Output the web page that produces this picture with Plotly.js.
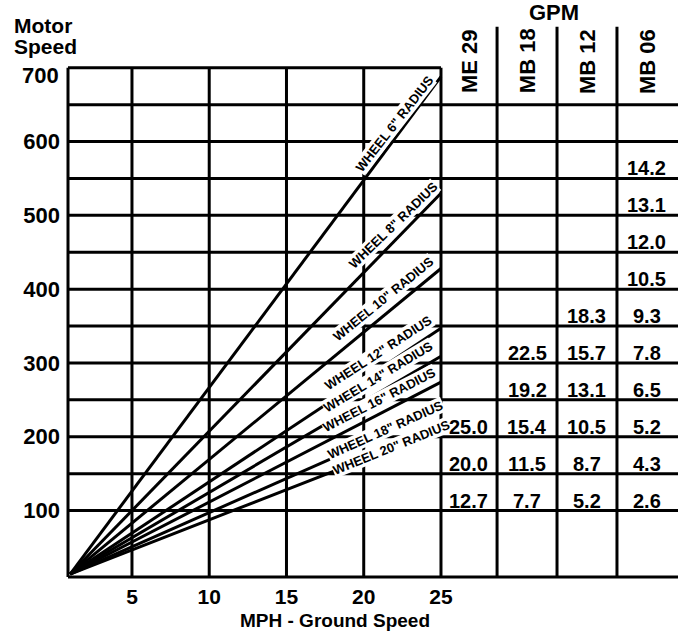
<!DOCTYPE html>
<html>
<head>
<meta charset="utf-8">
<script src="https://cdn.plot.ly/plotly-3.0.1.min.js"></script>
<style>html,body{margin:0;padding:0;background:#fff;}#chart{width:678px;height:634px;}</style>
</head>
<body>
<div id="chart"></div>
<script>
// ---- data ----
const wheelRadius = [6, 8, 10, 12, 14, 16, 18, 20];
const mphPoints = [1, 25];
const rpmWheel6 = [14, 688];
const rpmWheel8 = [14, 530];
const rpmWheel10 = [14, 428];
const rpmWheel12 = [14, 347];
const rpmWheel14 = [14, 309];
const rpmWheel16 = [14, 274];
const rpmWheel18 = [14, 236];
const rpmWheel20 = [14, 210];

const xTickVals = [5, 10, 15, 20, 25];
const yTickVals = [100, 200, 300, 400, 500, 600, 700];

const gpmColumns = ['ME 29', 'MB 18', 'MB 12', 'MB 06'];
const gpmSpeeds = [550, 500, 450, 400, 350, 300, 250, 200, 150, 100];
const gpmME29 = [null, null, null, null, null, null, null, 25.0, 20.0, 12.7];
const gpmMB18 = [null, null, null, null, null, 22.5, 19.2, 15.4, 11.5, 7.7];
const gpmMB12 = [null, null, null, null, 18.3, 15.7, 13.1, 10.5, 8.7, 5.2];
const gpmMB06 = [14.2, 13.1, 12.0, 10.5, 9.3, 7.8, 6.5, 5.2, 4.3, 2.6];

// ---- layout constants ----
const FONT = 'Liberation Sans, Arial, Helvetica, sans-serif';
const X_LEFT = 0.86, X_PLOT_RIGHT = 25, X_FAR = 40.34;
const Y_BOTTOM = 10, Y_TOP = 700, Y_HEADER_TOP = 755.5;
const gridY = [100, 150, 200, 250, 300, 350, 400, 450, 500, 550, 600, 650];
const gridX = [5, 10, 15, 20];
const columnEdges = [28.63, 32.51, 36.39];
const columnCenters = [26.81, 30.57, 34.45, 38.33];
const labelPos = [
  {x: 22.02, y: 624, a: -52},
  {x: 21.90, y: 486, a: -44},
  {x: 21.31, y: 387, a: -39},
  {x: 20.98, y: 314, a: -33},
  {x: 20.98, y: 281, a: -31},
  {x: 21.05, y: 250, a: -27},
  {x: 21.44, y: 210, a: -24},
  {x: 21.77, y: 186, a: -22}
];

const wheelSeries = [rpmWheel6, rpmWheel8, rpmWheel10, rpmWheel12, rpmWheel14, rpmWheel16, rpmWheel18, rpmWheel20];

const traces = wheelSeries.map((ys, i) => ({
  type: 'scatter', mode: 'lines', x: mphPoints, y: ys,
  line: {color: '#000', width: 3}, hoverinfo: 'skip', showlegend: false,
  name: 'Wheel ' + wheelRadius[i] + '" radius'
}));

const lineStyle = {color: '#000', width: 3};
const shapes = [];
gridY.forEach(v => shapes.push({type: 'line', xref: 'x', yref: 'y', x0: X_LEFT, x1: X_FAR, y0: v, y1: v, line: lineStyle, layer: 'below'}));
shapes.push({type: 'line', xref: 'x', yref: 'y', x0: X_LEFT, x1: X_PLOT_RIGHT, y0: Y_TOP, y1: Y_TOP, line: lineStyle, layer: 'below'});
shapes.push({type: 'line', xref: 'x', yref: 'y', x0: X_LEFT, x1: X_FAR, y0: Y_BOTTOM, y1: Y_BOTTOM, line: lineStyle, layer: 'below'});
gridX.concat([X_LEFT, X_PLOT_RIGHT]).forEach(v => shapes.push({type: 'line', xref: 'x', yref: 'y', x0: v, x1: v, y0: Y_BOTTOM, y1: Y_TOP, line: lineStyle, layer: 'below'}));
columnEdges.forEach(v => shapes.push({type: 'line', xref: 'x', yref: 'y', x0: v, x1: v, y0: Y_BOTTOM, y1: Y_HEADER_TOP, line: lineStyle, layer: 'below'}));

const annotations = [];
const boldFont = (size) => ({family: FONT, size: size, color: '#000', weight: 'bold'});

wheelRadius.forEach((r, i) => {
  annotations.push({
    x: labelPos[i].x, y: labelPos[i].y, xref: 'x', yref: 'y',
    text: 'WHEEL ' + r + '" RADIUS', showarrow: false, textangle: labelPos[i].a,
    font: boldFont(13), bgcolor: '#fff', borderpad: 0,
    xanchor: 'center', yanchor: 'middle'
  });
});

[gpmME29, gpmMB18, gpmMB12, gpmMB06].forEach((col, c) => {
  col.forEach((v, r) => {
    if (v === null) return;
    annotations.push({
      x: columnCenters[c], y: gpmSpeeds[r], xref: 'x', yref: 'y',
      text: v.toFixed(1), showarrow: false, font: boldFont(20),
      xanchor: 'center', yanchor: 'bottom', yshift: -2, borderpad: 0
    });
  });
});

gpmColumns.forEach((name, c) => {
  annotations.push({
    x: columnCenters[c], y: 709, xref: 'x', yref: 'y', text: name, showarrow: false,
    textangle: -90, font: boldFont(22), xanchor: 'center', yanchor: 'middle'
  });
});
annotations.push({x: 0.798, y: 1.0207, xref: 'paper', yref: 'paper', text: 'GPM', showarrow: false, font: boldFont(22), xanchor: 'center', yanchor: 'middle'});

annotations.push({x: -0.0847, y: 0.9973, xref: 'paper', yref: 'paper', text: 'Motor', showarrow: false, font: boldFont(21), xanchor: 'left', yanchor: 'middle'});
annotations.push({x: -0.0847, y: 0.960, xref: 'paper', yref: 'paper', text: 'Speed', showarrow: false, font: boldFont(21), xanchor: 'left', yanchor: 'middle'});
annotations.push({x: 0.4414, y: -0.0737, xref: 'paper', yref: 'paper', text: 'MPH - Ground Speed', showarrow: false, font: boldFont(19), xanchor: 'center', yanchor: 'middle', borderpad: 0});
annotations.push({x: -0.0049, y: 0.9065, xref: 'paper', yref: 'paper', text: String(yTickVals[yTickVals.length - 1]), showarrow: false, font: boldFont(22), xanchor: 'right', yanchor: 'middle'});

const layout = {
  width: 678, height: 634,
  margin: {l: 64, r: 0, t: 24, b: 54},
  paper_bgcolor: '#fff', plot_bgcolor: '#fff',
  showlegend: false,
  xaxis: {
    range: [0.601, X_FAR], showgrid: false, zeroline: false, showline: false,
    tickmode: 'array', tickvals: xTickVals, ticktext: xTickVals.map(String),
    ticks: '', tickfont: boldFont(21), ticklabelstandoff: 2, fixedrange: true
  },
  yaxis: {
    range: [5.93, 759.3], showgrid: false, zeroline: false, showline: false,
    tickmode: 'array', tickvals: yTickVals.slice(0, -1), ticktext: yTickVals.slice(0, -1).map(String),
    ticks: '', tickfont: boldFont(22), ticklabelstandoff: 3, fixedrange: true
  },
  shapes: shapes,
  annotations: annotations
};

Plotly.newPlot('chart', traces, layout, {staticPlot: true, displayModeBar: false});
</script>
</body>
</html>
